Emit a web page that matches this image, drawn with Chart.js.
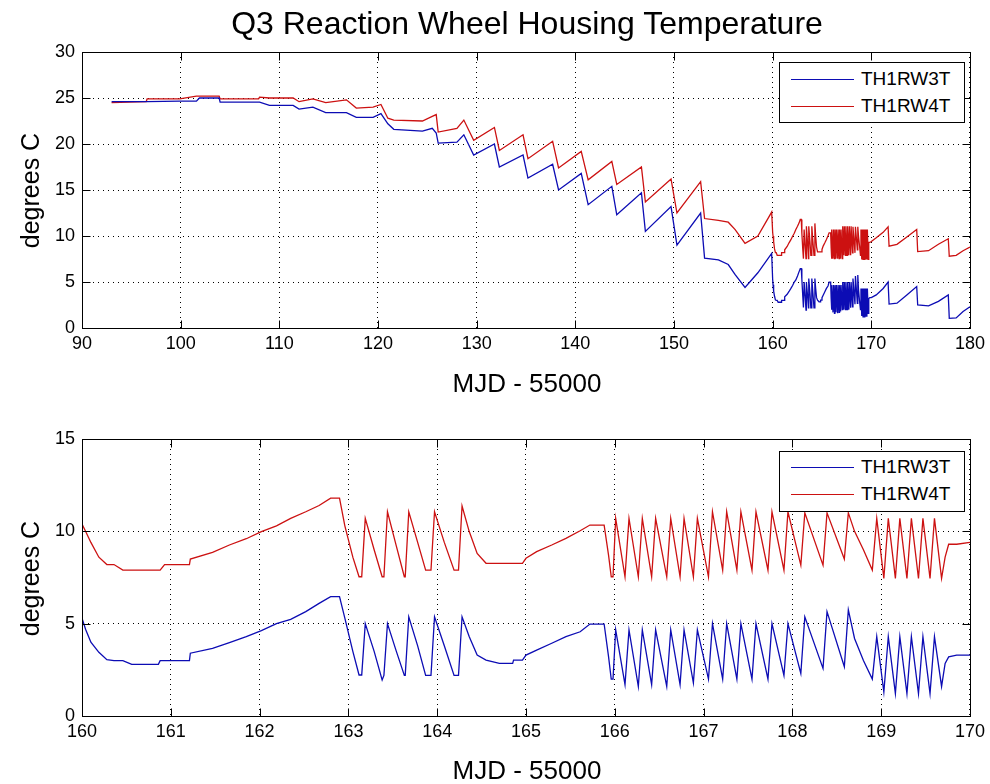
<!DOCTYPE html>
<html>
<head>
<meta charset="utf-8">
<script src="https://cdn.jsdelivr.net/npm/chart.js@4.4.0/dist/chart.umd.min.js"></script>
<style>
  body { margin: 0; width: 990px; height: 784px; background: #fff; position: relative; overflow: hidden; font-family: "Liberation Sans", Arial, sans-serif; color: #000; }
  canvas { position: absolute; left: 0; }
  .txt { position: absolute; white-space: nowrap; }
  .ttl { left: 82px; width: 890px; text-align: center; font-size: 32px; line-height: 32px; top: 7px; }
  .xlab { left: 82px; width: 890px; text-align: center; font-size: 26px; line-height: 26px; }
  .ylab { font-size: 25px; line-height: 25px; width: 200px; text-align: center; left: -70px; transform: rotate(-90deg); }
  .legend { position: absolute; left: 779px; width: 184px; height: 59px; border: 1px solid #000; background: #fff; }
  .legend .row { position: absolute; left: 0; height: 20px; width: 184px; }
  .legend .swatch { position: absolute; left: 11px; top: 10px; width: 63px; height: 0; border-top: 1px solid; }
  .legend .name { position: absolute; left: 81px; top: 0; font-size: 19px; line-height: 20px; }
</style>
</head>
<body>
<canvas id="topChart" width="990" height="392" style="top:0"></canvas>
<canvas id="bottomChart" width="990" height="392" style="top:392px"></canvas>

<div class="txt ttl">Q3 Reaction Wheel Housing Temperature</div>
<div class="txt xlab" style="top:370px">MJD - 55000</div>
<div class="txt xlab" style="top:757px">MJD - 55000</div>
<div class="txt ylab" style="top:178px">degrees C</div>
<div class="txt ylab" style="top:566px">degrees C</div>

<div class="legend" style="top:62px">
  <div class="row" style="top:6px"><span class="swatch" style="border-color:#0c0cb4"></span><span class="name">TH1RW3T</span></div>
  <div class="row" style="top:33px"><span class="swatch" style="border-color:#cc1111"></span><span class="name">TH1RW4T</span></div>
</div>
<div class="legend" style="top:451px">
  <div class="row" style="top:5px"><span class="swatch" style="border-color:#0c0cb4"></span><span class="name">TH1RW3T</span></div>
  <div class="row" style="top:32px"><span class="swatch" style="border-color:#cc1111"></span><span class="name">TH1RW4T</span></div>
</div>

<script>
// MJD - 55000, days 93 .. 160
const mjdEarly = [93.0, 96.5, 96.6, 99.9, 101.6, 101.9, 103.9, 104.0, 107.9, 108.0, 109.0, 111.4, 112.0, 113.4, 114.7, 116.8, 117.8, 119.5, 120.3, 121.0, 121.6, 124.5, 125.5, 125.9, 126.1, 128.0, 128.7, 129.7, 131.8, 132.3, 134.7, 135.2, 137.7, 138.3, 140.6, 141.3, 143.7, 144.2, 146.7, 147.1, 149.7, 150.3, 152.7, 153.1, 154.5, 155.5, 156.2, 157.2, 158.5, 159.9];
const rw3Early = [24.6, 24.6, 24.6, 24.65, 24.65, 25.0, 25.0, 24.55, 24.55, 24.55, 24.2, 24.2, 23.8, 24.0, 23.4, 23.4, 22.9, 22.9, 23.3, 22.2, 21.6, 21.4, 21.7, 21.2, 20.1, 20.2, 21.0, 18.8, 20.0, 17.5, 18.8, 16.3, 17.8, 15.0, 16.8, 13.4, 15.4, 12.3, 14.7, 10.5, 13.2, 9.0, 12.5, 7.6, 7.4, 6.9, 5.8, 4.4, 6.0, 8.1];
const rw4Early = [24.5, 24.6, 24.9, 24.9, 25.2, 25.2, 25.2, 24.9, 24.9, 25.1, 25.0, 25.0, 24.6, 24.9, 24.5, 24.8, 23.9, 24.0, 24.3, 22.8, 22.6, 22.5, 23.0, 23.2, 21.3, 21.7, 22.6, 20.4, 21.8, 19.3, 21.0, 18.4, 20.3, 17.4, 19.2, 16.1, 18.1, 15.6, 17.5, 13.7, 16.2, 12.5, 15.9, 11.9, 11.7, 11.5, 10.7, 9.2, 10.0, 12.6];

// days 160 .. 170 (the zoomed lower panel)
const mjdDetail = [160.00, 160.04, 160.10, 160.19, 160.28, 160.36, 160.46, 160.56, 160.86, 160.88, 160.93, 161.21, 161.22, 161.47, 161.66, 161.85, 162.02, 162.19, 162.35, 162.52, 162.67, 162.80, 162.90, 162.96, 163.05, 163.12, 163.15, 163.19, 163.29, 163.38, 163.40, 163.44, 163.54, 163.63, 163.64, 163.68, 163.78, 163.87, 163.93, 163.97, 164.08, 164.19, 164.24, 164.28, 164.36, 164.45, 164.55, 164.70, 164.85, 164.86, 164.96, 165.00, 165.12, 165.29, 165.45, 165.61, 165.72, 165.88, 165.93, 165.96, 165.98,
  166.01, 166.115, 166.16, 166.265, 166.31, 166.415, 166.46, 166.585, 166.63, 166.735, 166.78, 166.885, 166.93, 167.055,
  167.10, 167.215, 167.26, 167.375, 167.42, 167.545, 167.59, 167.725, 167.77, 167.905, 167.95, 168.095,
  168.14, 168.345, 168.39, 168.585, 168.63, 168.70, 168.80, 168.90,
  168.95, 169.03, 169.08, 169.16, 169.21, 169.29, 169.34, 169.42, 169.47, 169.55, 169.60, 169.68, 169.72, 169.76, 169.85, 170.00];
const rw3Detail = [5.3, 4.7, 4.0, 3.45, 3.05, 3.0, 3.0, 2.8, 2.8, 3.0, 3.0, 3.0, 3.4, 3.66, 3.97, 4.3, 4.62, 5.0, 5.23, 5.65, 6.1, 6.46, 6.46, 5.3, 3.5, 2.22, 2.22, 5.0, 3.5, 1.95, 2.2, 5.0, 3.5, 2.2, 2.2, 5.37, 3.8, 2.2, 2.2, 5.37, 3.8, 2.2, 2.2, 5.37, 4.3, 3.3, 3.03, 2.85, 2.85, 3.03, 3.03, 3.3, 3.57, 3.94, 4.3, 4.56, 4.98, 4.98, 3.2, 2.0, 2.0,
  4.66, 1.7, 4.66, 1.6, 4.66, 1.7, 4.66, 1.6, 4.66, 1.7, 4.66, 1.8, 4.66, 2.0,
  5.0, 2.0, 5.0, 2.0, 5.0, 2.0, 5.0, 2.0, 5.0, 2.2, 5.0, 2.3,
  5.37, 2.58, 5.65, 2.67, 5.75, 4.2, 3.0, 2.0,
  4.3, 1.3, 4.3, 1.22, 4.3, 1.22, 4.3, 1.22, 4.3, 1.22, 4.3, 1.6, 2.85, 3.2, 3.3, 3.3];
const rw4Detail = [10.4, 10.0, 9.4, 8.6, 8.2, 8.2, 7.9, 7.9, 7.9, 7.9, 8.2, 8.2, 8.5, 8.86, 9.26, 9.6, 9.98, 10.3, 10.7, 11.06, 11.4, 11.8, 11.8, 10.3, 8.6, 7.54, 7.54, 10.7, 9.0, 7.54, 7.54, 11.06, 9.2, 7.54, 7.54, 11.06, 9.4, 7.9, 7.9, 11.06, 9.4, 7.9, 7.9, 11.37, 10.0, 8.8, 8.27, 8.27, 8.27, 8.27, 8.27, 8.54, 8.9, 9.26, 9.62, 10.03, 10.34, 10.34, 8.7, 7.54, 7.54,
  10.7, 7.54, 10.7, 7.54, 10.7, 7.54, 10.7, 7.54, 10.7, 7.54, 10.7, 7.54, 10.7, 7.54,
  11.06, 7.9, 11.06, 7.9, 11.06, 7.9, 11.06, 7.9, 11.06, 7.9, 11.06, 8.17,
  11.0, 8.17, 11.0, 8.5, 11.0, 10.0, 9.0, 7.9,
  10.7, 7.45, 10.7, 7.45, 10.7, 7.45, 10.7, 7.45, 10.7, 7.45, 10.7, 7.45, 8.6, 9.3, 9.3, 9.4];

// days 170 .. 180
const mjdLate = [170.5, 171.2, 171.7, 171.8, 172.6, 173.6, 174.6, 174.7, 175.8, 176.8, 177.8, 177.9, 178.6, 179.3, 180.0];
const rw3Late = [3.6, 4.3, 5.0, 2.6, 2.7, 3.6, 4.5, 2.5, 2.4, 2.9, 3.6, 1.05, 1.1, 1.8, 2.3];
const rw4Late = [9.8, 10.4, 11.0, 8.9, 9.1, 9.9, 10.7, 8.3, 8.4, 9.1, 9.7, 7.8, 7.9, 8.4, 8.8];

const topXTicks = [90, 180, 10];
const topYTicks = [0, 30, 5];
const bottomXTicks = [160, 170, 1];
const bottomYTicks = [0, 15, 5];

const BLUE = '#0c0cb4';
const RED = '#cc1111';
const tickFont = { family: "'Liberation Sans Narrow', 'Liberation Sans', Arial, sans-serif", size: 18 };

function toPoints(xs, ys) {
  return xs.map((x, i) => ({ x: x, y: ys[i] }));
}

// MATLAB style box: solid frame on four sides and inward ticks
const boxAxes = {
  id: 'boxAxes',
  afterDraw(chart) {
    const ctx = chart.ctx;
    const a = chart.chartArea;
    const xs = chart.scales.x, ys = chart.scales.y;
    const L = Math.round(a.left) + 0.5, R = Math.round(a.right) + 0.5;
    const T = Math.round(a.top) + 0.5, B = Math.round(a.bottom) + 0.5;
    ctx.save();
    ctx.strokeStyle = '#000';
    ctx.lineWidth = 1;
    ctx.setLineDash([]);
    ctx.strokeRect(L, T, R - L, B - T);
    ctx.beginPath();
    xs.ticks.forEach(t => {
      const px = Math.round(xs.getPixelForValue(t.value)) + 0.5;
      ctx.moveTo(px, B); ctx.lineTo(px, B - 8);
      ctx.moveTo(px, T); ctx.lineTo(px, T + 8);
    });
    ys.ticks.forEach(t => {
      const py = Math.round(ys.getPixelForValue(t.value)) + 0.5;
      ctx.moveTo(L, py); ctx.lineTo(L + 8, py);
      ctx.moveTo(R, py); ctx.lineTo(R - 8, py);
    });
    ctx.stroke();
    ctx.restore();
  }
};

function makeChart(id, xs, rw3, rw4, xt, yt, padTop, xAxisHeight) {
  return new Chart(document.getElementById(id), {
    type: 'line',
    data: {
      datasets: [
        { label: 'TH1RW3T', data: toPoints(xs, rw3), borderColor: BLUE, borderWidth: 1.3, pointRadius: 0, tension: 0 },
        { label: 'TH1RW4T', data: toPoints(xs, rw4), borderColor: RED, borderWidth: 1.3, pointRadius: 0, tension: 0 }
      ]
    },
    options: {
      responsive: false,
      animation: false,
      events: [],
      layout: { padding: { top: padTop, right: 18, left: 0, bottom: 0 } },
      plugins: { legend: { display: false }, tooltip: { enabled: false } },
      scales: {
        x: {
          type: 'linear', min: xt[0], max: xt[1],
          ticks: { stepSize: xt[2], font: tickFont, color: '#000', padding: 5, maxRotation: 0, autoSkip: false },
          grid: { color: '#000', lineWidth: 1, drawTicks: false },
          border: { display: true, color: '#000', dash: [1, 4] },
          afterFit: s => { s.height = xAxisHeight; }
        },
        y: {
          min: yt[0], max: yt[1],
          ticks: { stepSize: yt[2], font: tickFont, color: '#000', padding: 7 },
          grid: { color: '#000', lineWidth: 1, drawTicks: false },
          border: { display: true, color: '#000', dash: [1, 4] },
          afterFit: s => { s.width = 82; }
        }
      }
    },
    plugins: [boxAxes]
  });
}

makeChart('topChart',
  mjdEarly.concat(mjdDetail, mjdLate),
  rw3Early.concat(rw3Detail, rw3Late),
  rw4Early.concat(rw4Detail, rw4Late),
  topXTicks, topYTicks, 52, 64);

makeChart('bottomChart', mjdDetail, rw3Detail, rw4Detail, bottomXTicks, bottomYTicks, 47, 68);
</script>
</body>
</html>
